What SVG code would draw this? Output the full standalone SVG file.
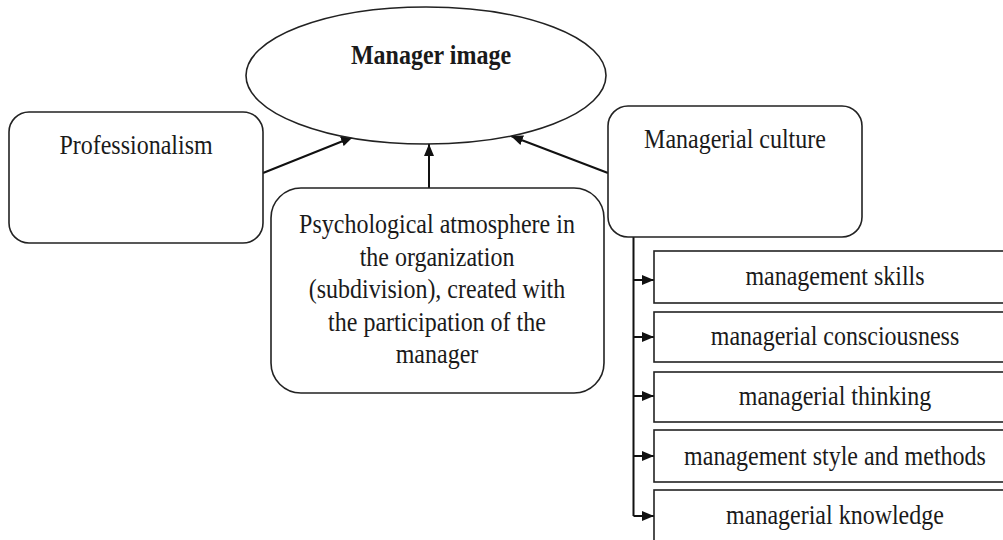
<svg xmlns="http://www.w3.org/2000/svg" width="1003" height="540" viewBox="0 0 1003 540">
<style>
.box{fill:#fff;stroke:#222;stroke-width:1.6}
.t{font-family:"Liberation Serif","Times New Roman",serif;font-size:24px;fill:#1a1a1a;text-anchor:middle}
.b{font-weight:bold}
.c{fill:none;stroke:#111;stroke-width:2}
</style>
<defs>
<marker id="ah" markerUnits="userSpaceOnUse" markerWidth="12" markerHeight="10" refX="12" refY="5" orient="auto">
<path d="M0,0 L12,5 L0,10 z" fill="#111"/>
</marker>
</defs>
<rect width="1003" height="540" fill="#fff"/>
<g id="connectors">
<path class="c" d="M263,173 L353,137" marker-end="url(#ah)"/>
<path class="c" d="M429,188 L429,144" marker-end="url(#ah)"/>
<path class="c" d="M608,173 L511,136" marker-end="url(#ah)"/>
<path class="c" d="M633.5,237 V516"/>
<path class="c" d="M633.5,280 H654" marker-end="url(#ah)"/>
<path class="c" d="M633.5,337 H654" marker-end="url(#ah)"/>
<path class="c" d="M633.5,396 H654" marker-end="url(#ah)"/>
<path class="c" d="M633.5,456 H654" marker-end="url(#ah)"/>
<path class="c" d="M633.5,516 H654" marker-end="url(#ah)"/>
</g>
<g id="manager-image">
<ellipse class="box" cx="426" cy="75.5" rx="180" ry="68.5"/>
<text class="t b" transform="translate(431,64) scale(1,1.18)">Manager image</text>
</g>
<g id="professionalism">
<rect class="box" x="9" y="112" width="254" height="131" rx="20"/>
<text class="t" transform="translate(136,154) scale(1,1.18)">Professionalism</text>
</g>
<g id="psychological-atmosphere">
<rect class="box" x="271" y="188" width="333" height="205" rx="30"/>
<text class="t" transform="translate(437,233) scale(1,1.18)"><tspan x="0" y="0">Psychological atmosphere in</tspan><tspan x="0" dy="27.7">the organization</tspan><tspan x="0" dy="27.5">(subdivision), created with</tspan><tspan x="0" dy="27.5">the participation of the</tspan><tspan x="0" dy="27.5">manager</tspan></text>
</g>
<g id="managerial-culture">
<rect class="box" x="608" y="106" width="254" height="131" rx="20"/>
<text class="t" transform="translate(735,148) scale(1,1.18)">Managerial culture</text>
</g>
<g id="management-skills">
<rect class="box" x="654" y="251" width="362" height="52"/>
<text class="t" transform="translate(835,285) scale(1,1.18)">management skills</text>
</g>
<g id="managerial-consciousness">
<rect class="box" x="654" y="312" width="362" height="50"/>
<text class="t" transform="translate(835,345) scale(1,1.18)">managerial consciousness</text>
</g>
<g id="managerial-thinking">
<rect class="box" x="654" y="372" width="362" height="50"/>
<text class="t" transform="translate(835,405) scale(1,1.18)">managerial thinking</text>
</g>
<g id="management-style">
<rect class="box" x="654" y="430" width="362" height="52"/>
<text class="t" transform="translate(835,465) scale(1,1.18)">management style and methods</text>
</g>
<g id="managerial-knowledge">
<rect class="box" x="654" y="490" width="362" height="70"/>
<text class="t" transform="translate(835,524) scale(1,1.18)">managerial knowledge</text>
</g>
</svg>
